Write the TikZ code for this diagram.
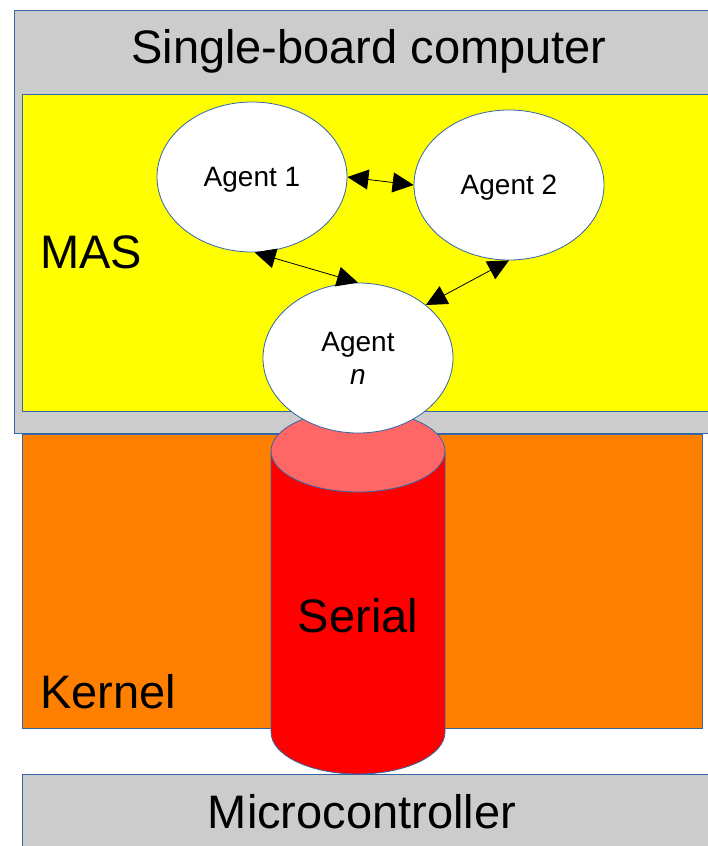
\documentclass[tikz,border=0pt]{standalone}
\usepackage{fontspec}
\setmainfont{Liberation Sans}
\usetikzlibrary{shapes.geometric,arrows.meta}
\definecolor{boardgray}{HTML}{CCCCCC}
\definecolor{masyellow}{HTML}{FFFF00}
\definecolor{kernelorange}{HTML}{FF8000}
\definecolor{serialred}{HTML}{FF0000}
\definecolor{serialtop}{HTML}{FF6666}
\definecolor{edgeblue}{HTML}{3465A4}
\tikzset{
  layer/.style={draw=edgeblue, line width=0.8pt},
  agent/.style={ellipse, draw=edgeblue, line width=0.8pt, fill=white,
    minimum width=190pt, minimum height=150pt, inner sep=0pt, text depth=0pt,
    font=\fontsize{28}{33}\selectfont, align=center},
  biglabel/.style={inner sep=0pt, font=\fontsize{47}{56}\selectfont},
  talk/.style={{Triangle[length=21pt,width=20pt]}-{Triangle[length=21pt,width=20pt]}, line width=0.8pt}
}
\begin{document}
\begin{tikzpicture}[x=1pt,y=-1pt]
        \clip (0,0) rectangle (708,846);
        \fill[white] (0,0) rectangle (708,846);
        % single-board computer with the MAS inside
        \draw[layer, fill=boardgray] (14,10) rectangle (720,433);
        \draw[layer, fill=masyellow] (22,94) rectangle (720,411);
        % kernel and microcontroller
        \draw[layer, fill=kernelorange] (22,434) rectangle (702,728);
        \draw[layer, fill=boardgray] (22,774) rectangle (720,860);
        % serial link
        \draw[layer, fill=serialred] (271,451) -- (271,732) arc (180:0:87 and 42) -- (445,451) -- cycle;
        \draw[layer, fill=serialtop] (358,451) ellipse (87 and 41);
        % agents
        \node[agent] (agent1) at (252,177) {Agent 1};
        \node[agent] (agent2) at (509,185) {Agent 2};
        \node[agent] (agentn) at (358,358) {Agent\\\textit{n}};
        \draw[talk] (agent1.east) -- (agent2.west);
        \draw[talk] (agent1.-88) -- (agentn.north);
        \draw[talk] (agent2.south) -- (agentn.38);
        % labels
        \node[biglabel, anchor=base] (sbc) at (369,63) {Single-board computer};
        \node[biglabel, anchor=base west] (mas) at (40,268) {MAS};
        \node[biglabel, anchor=base west] (kernel) at (40,708) {Kernel};
        \node[biglabel, anchor=base] (serial) at (358,632) {Serial};
        \node[biglabel, anchor=base] (mcu) at (362,828) {Microcontroller};
\end{tikzpicture}
\end{document}
